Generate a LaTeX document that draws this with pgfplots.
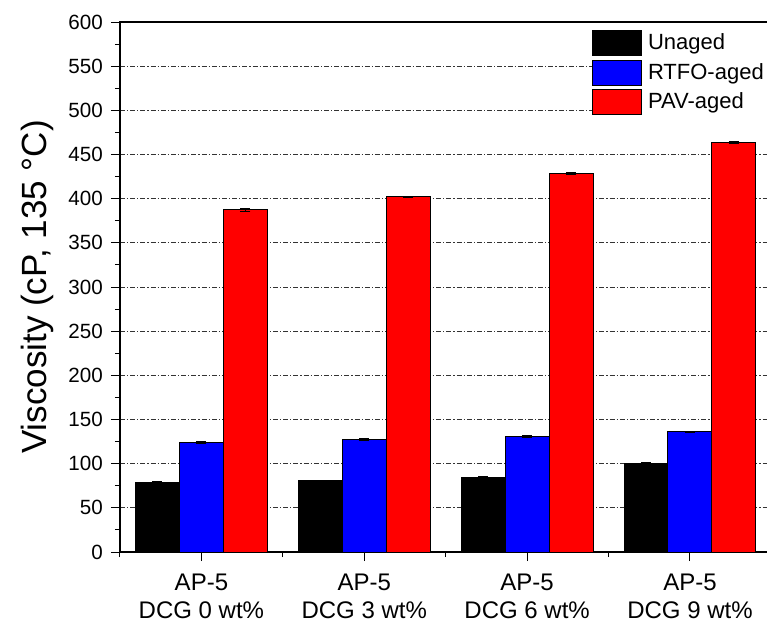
\documentclass[border=0pt]{standalone}
\usepackage{fontspec}
\setmainfont{Liberation Sans}
\usepackage{pgfplots}
\pgfplotsset{compat=1.18}
\begin{document}
\begin{tikzpicture}
\begin{axis}[
  name=ax,
  scale only axis,
  width=325.7pt, height=265pt,
  xmin=-0.5, xmax=3.5, ymin=0, ymax=600,
  ybar=0pt, bar width=0.27,
  every axis plot post/.append style={
    legend image code/.code={\draw[#1, draw=black, line width=0.5pt] (0pt,-6.25pt) rectangle (24.5pt,6.25pt);}
  },
  xtick={0,1,2,3},
  xticklabels={{AP-5\\DCG 0 wt\%},{AP-5\\DCG 3 wt\%},{AP-5\\DCG 6 wt\%},{AP-5\\DCG 9 wt\%}},
  xticklabel style={align=center, font=\fontsize{12}{14}\selectfont, yshift=-3pt},
  minor xtick={-0.5,0.5,1.5,2.5,3.5},
  ytick={0,50,...,600},
  minor ytick={25,75,...,575},
  xtick pos=lower, ytick pos=left,
  tick align=outside,
  major tick length=4.5pt, minor tick length=2.5pt,
  tick style={black, line width=0.5pt},
  yticklabel style={font=\fontsize{10.3}{12}\selectfont, xshift=-0.6pt},
  /pgf/number format/assume math mode=true,
  ymajorgrids,
  grid style={dash pattern=on 2.5pt off 1pt on 0.6pt off 1pt, line width=0.4pt, black!80},
  axis line style={line width=1pt},
  ylabel={Viscosity (cP, 135 °C)},
  ylabel style={at={(axis description cs:-0.127,0.5)}, anchor=center, font=\fontsize{17.5}{20}\selectfont},
  legend style={at={(0.724,0.985)}, anchor=north west, draw=none, fill=white, inner sep=0pt,
    row sep=1.65pt, cells={anchor=west}, font=\fontsize{11}{12}\selectfont,
    nodes={inner ysep=0pt, inner xsep=3pt}},
  error bars/error bar style={black, line width=0.5pt},
  error bars/error mark options={rotate=90, black, mark size=2.5pt, line width=0.5pt},
]
\addplot[fill=black, draw=black, line width=0.5pt,
  error bars/.cd, y dir=both, y explicit]
  coordinates {(0,78.5) +- (0,1.2) (1,80.5) +- (0,1.0) (2,84.5) +- (0,1.0) (3,100.5) +- (0,0.8)};
\addplot[fill={rgb,255:red,0;green,0;blue,255}, draw=black, line width=0.5pt,
  error bars/.cd, y dir=both, y explicit]
  coordinates {(0,124) +- (0,1.5) (1,127.5) +- (0,1.0) (2,130.5) +- (0,1.0) (3,136) +- (0,0.8)};
\addplot[fill={rgb,255:red,255;green,0;blue,0}, draw=black, line width=0.5pt,
  error bars/.cd, y dir=both, y explicit]
  coordinates {(0,387.5) +- (0,1.5) (1,402) +- (0,1.0) (2,428.5) +- (0,1.5) (3,464) +- (0,1.0)};
\legend{Unaged,RTFO-aged,PAV-aged}
\end{axis}
\pgfresetboundingbox
\path ([xshift=-60pt,yshift=-35.5pt]ax.south west) rectangle ([xshift=323.5pt,yshift=11pt]ax.north west);
\end{tikzpicture}
\end{document}
